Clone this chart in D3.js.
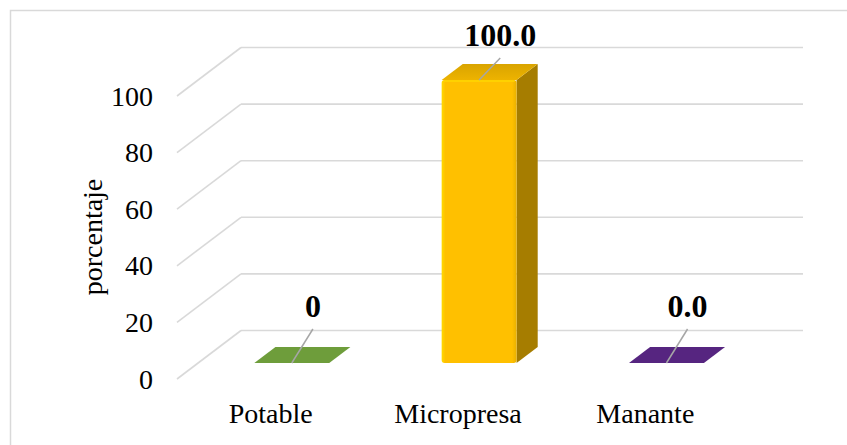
<!DOCTYPE html>
<html>
<head>
<meta charset="utf-8">
<script src="https://cdn.jsdelivr.net/npm/d3@7"></script>
<style>
  html, body { margin: 0; padding: 0; background: #ffffff; }
  svg { display: block; }
</style>
</head>
<body>
<svg id="chart" width="847" height="445"></svg>
<script>
// Water source shares (percent)
const categories = ["Potable", "Micropresa", "Manante"];
const values = [0, 100, 0];
const valueLabels = ["0", "100.0", "0.0"];
const yTicks = [0, 20, 40, 60, 80, 100];
const yTitle = "porcentaje";

// Base fill for each category
const palette = ["#7aaf42", "#ffc000", "#60298e"];

const W = 847, H = 445;
const svg = d3.select("#chart");
const FONT = "'Liberation Serif', 'Times New Roman', serif";

// Front plane of the oblique 3-D box
const x = d3.scaleBand().domain(categories).range([177, 739]).padding(0);
const y = d3.scaleLinear().domain([0, 100]).range([379, 96]);
const depth = { dx: 64, dy: -48.5 };
// project a point (front-plane x, value, depth fraction 0..1)
const proj = (px, v, z) => [px + z * depth.dx, y(v) + z * depth.dy];

// chart frame
svg.append("rect")
  .attr("x", 10.5).attr("y", 10.5)
  .attr("width", W + 20).attr("height", H + 20)
  .attr("fill", "none").attr("stroke", "#d9d9d9").attr("stroke-width", 1.5);

// gridlines: back wall + diagonal along the side wall
const grid = svg.append("g").attr("stroke", "#d9d9d9").attr("stroke-width", 1.6).attr("fill", "none");
const [xL, xR] = x.range();
yTicks.forEach(t => {
  const a = proj(xL, t, 1), b = proj(xR, t, 1), f = proj(xL, t, 0);
  grid.append("line").attr("x1", a[0]).attr("y1", a[1]).attr("x2", b[0]).attr("y2", b[1]);
  grid.append("line").attr("x1", f[0]).attr("y1", f[1]).attr("x2", a[0]).attr("y2", a[1]);
});

// tick labels
svg.append("g").selectAll("text").data(yTicks).join("text")
  .attr("x", 153).attr("y", d => y(d))
  .attr("text-anchor", "end").attr("dominant-baseline", "central")
  .attr("font-family", FONT).attr("font-size", 28).attr("fill", "#000")
  .text(d => d);

// axis title
svg.append("text")
  .attr("transform", "translate(92,237) rotate(-90)")
  .attr("text-anchor", "middle").attr("dominant-baseline", "central")
  .attr("font-family", FONT).attr("font-size", 28).attr("fill", "#000")
  .text(yTitle);

// category labels
svg.append("g").selectAll("text").data(categories).join("text")
  .attr("x", d => x(d) + x.bandwidth() / 2).attr("y", 423)
  .attr("text-anchor", "middle")
  .attr("font-family", FONT).attr("font-size", 28).attr("fill", "#000")
  .text(d => d);

// gradients for the front and top faces (bevel-like edge light)
const defs = svg.append("defs");
palette.forEach((c, i) => {
  const g = defs.append("linearGradient").attr("id", "front" + i)
    .attr("x1", 0).attr("x2", 1).attr("y1", 0).attr("y2", 0);
  const base = d3.color(c);
  g.append("stop").attr("offset", "0%").attr("stop-color", base.brighter(0.35));
  g.append("stop").attr("offset", "5%").attr("stop-color", base);
  g.append("stop").attr("offset", "94%").attr("stop-color", base);
  g.append("stop").attr("offset", "100%").attr("stop-color", base.darker(0.25));
  const t = defs.append("linearGradient").attr("id", "top" + i)
    .attr("x1", 0).attr("x2", 0).attr("y1", 0).attr("y2", 1);
  t.append("stop").attr("offset", "0%").attr("stop-color", base.darker(0.45));
  t.append("stop").attr("offset", "100%").attr("stop-color", base.darker(0.2));
});

// bars
const z0 = 0.33, z1 = 0.66;
const line = d3.line();
const bars = svg.append("g");
const labels = svg.append("g");
categories.forEach((cat, i) => {
  const v = values[i];
  const c = x(cat) + x.bandwidth() / 2;
  const hw = x.bandwidth() * 0.2;
  const x0 = c - hw, x1 = c + hw;
  const tall = y(0) - y(v) > 0.5;
  const base = d3.color(palette[i]);

  if (tall) {
    // right side face
    const side = [proj(x1, 0, z0), proj(x1, v, z0), proj(x1, v, z1), proj(x1, 0, z1)];
    bars.append("path").attr("d", line(side) + "Z").attr("fill", base.darker(1.2));
    // front face
    const fa = proj(x0, v, z0), fb = proj(x1, 0, z0);
    bars.append("rect")
      .attr("x", fa[0]).attr("y", fa[1])
      .attr("width", fb[0] - fa[0]).attr("height", fb[1] - fa[1])
      .attr("rx", 3).attr("fill", `url(#front${i})`);
  }
  // top face
  const top = [proj(x0, v, z0), proj(x1, v, z0), proj(x1, v, z1), proj(x0, v, z1)];
  bars.append("path").attr("d", line(top) + "Z")
    .attr("fill", tall ? `url(#top${i})` : base.darker(0.3));
  if (tall) {
    // soft highlight along the front top edge
    const p = proj(x0, v, z0), q = proj(x1, v, z0);
    bars.append("line").attr("x1", p[0] + 2).attr("y1", p[1] + 1)
      .attr("x2", q[0] - 2).attr("y2", q[1] + 1)
      .attr("stroke", base.brighter(0.3)).attr("stroke-width", 2).attr("opacity", 0.8);
  }

  // value label with leader line
  const anchor = proj(c, v, z0);
  const lx = proj(c, v, z1)[0];
  const ly = Math.max(46, anchor[1] - 46);
  labels.append("line")
    .attr("x1", lx).attr("y1", ly + 12)
    .attr("x2", anchor[0]).attr("y2", anchor[1])
    .attr("stroke", "#a6a6a6").attr("stroke-width", 1.5);
  labels.append("text")
    .attr("x", lx).attr("y", ly)
    .attr("text-anchor", "middle")
    .attr("font-family", FONT).attr("font-size", 32).attr("font-weight", "bold").attr("fill", "#000")
    .text(valueLabels[i]);
});
</script>
</body>
</html>
